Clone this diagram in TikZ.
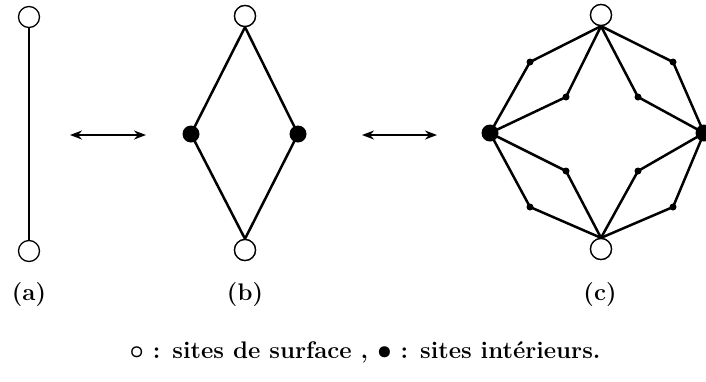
\documentclass[tikz,border=0pt]{standalone}
\usetikzlibrary{arrows.meta}
\begin{document}
\begin{tikzpicture}[x=1pt,y=-1pt,
  opensite/.style={circle,draw,line width=1.3pt,fill=white,minimum size=21pt,inner sep=0pt},
  bigdot/.style={circle,fill=black,minimum size=17pt,inner sep=0pt},
  smalldot/.style={circle,fill=black,minimum size=7pt,inner sep=0pt},
  bond/.style={line width=2.5pt,line join=round},
  dblarrow/.style={line width=1.8pt,{Stealth[length=12pt,width=9pt]}-{Stealth[length=12pt,width=9pt]}},
  lab/.style={inner sep=0pt,font=\fontsize{24}{28}\selectfont\bfseries\boldmath}]
\useasboundingbox (0,0) rectangle (706,381);
% (a)
\node[opensite] (at) at (29,17) {};
\node[opensite] (ab) at (29,251) {};
\draw[bond] (at) -- (ab);
\node[lab] (la) at (29,295) {(a)};
% arrows
\coordinate (a1l) at (70,135);
\coordinate (a1r) at (146,135);
\draw[dblarrow] (a1l) -- (a1r);
\coordinate (a2l) at (362,135);
\coordinate (a2r) at (437,135);
\draw[dblarrow] (a2l) -- (a2r);
% (b)
\node[opensite] (bt) at (245,16) {};
\node[opensite] (bb) at (245,250) {};
\node[bigdot] (bl) at (191,134) {};
\node[bigdot] (br) at (298,134) {};
\draw[bond] (bt.south) -- (bl.center) -- (bb.north) -- (br.center) -- cycle;
\node[lab] (lb) at (245,295) {(b)};
% (c)
\node[opensite] (ct) at (601,15) {};
\node[opensite] (cb) at (601,249) {};
\node[bigdot] (cl) at (490,133) {};
\node[bigdot] (cr) at (704,133) {};
\node[smalldot] (o1) at (530,62) {};
\node[smalldot] (o2) at (673,62) {};
\node[smalldot] (o3) at (530,207) {};
\node[smalldot] (o4) at (673,207) {};
\node[smalldot] (i1) at (566,97) {};
\node[smalldot] (i2) at (638,97) {};
\node[smalldot] (i3) at (566,171) {};
\node[smalldot] (i4) at (638,171) {};
\draw[bond] (ct.south) -- (o1.center) -- (cl.center) -- (o3.center) -- (cb.north) -- (o4.center) -- (cr.center) -- (o2.center) -- cycle;
\draw[bond] (ct.south) -- (i1.center) -- (cl.center) -- (i3.center) -- (cb.north) -- (i4.center) -- (cr.center) -- (i2.center) -- cycle;
\node[opensite] (ct2) at (ct) {};
\node[opensite] (cb2) at (cb) {};
\node[opensite] (bt2) at (bt) {};
\node[opensite] (bb2) at (bb) {};
\node[lab] (lc) at (600,295) {(c)};
% caption
\node[lab] (cap) at (365,352) {$\circ$ : sites de surface , $\bullet$ : sites int\'erieurs.};
\end{tikzpicture}
\end{document}
